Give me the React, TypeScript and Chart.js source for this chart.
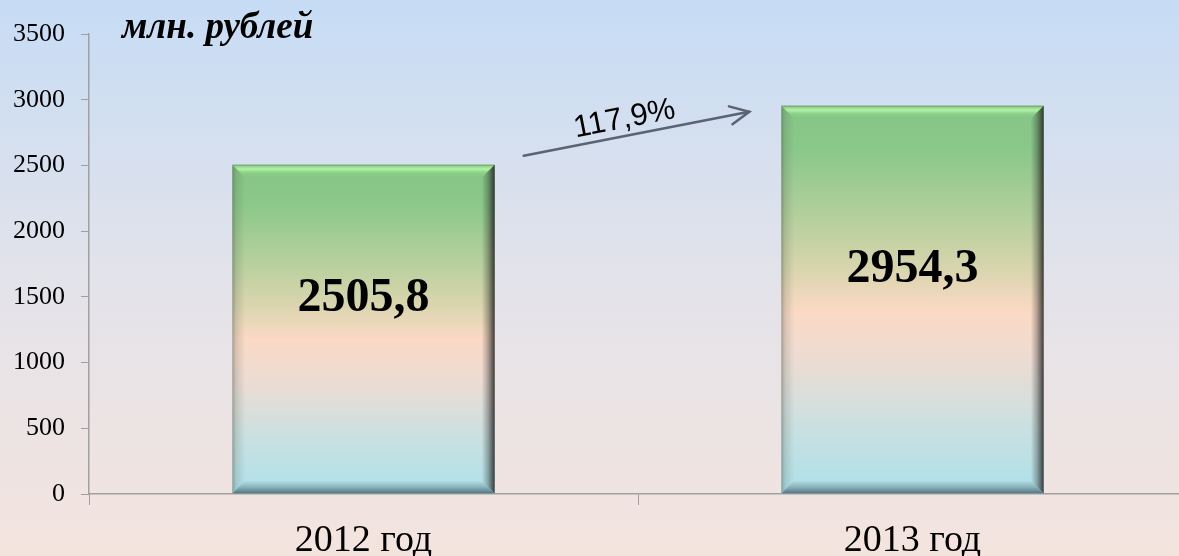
import React, { useEffect, useRef } from "react";
import { Chart, registerables } from "chart.js";

Chart.register(...registerables);

const categories = ["2012 год", "2013 год"];
const values = [2505.8, 2954.3];
const yTicks = [0, 500, 1000, 1500, 2000, 2500, 3000, 3500];
const unitLabel = "млн. рублей";

const SERIF = "'Liberation Serif', 'Times New Roman', serif";
const SANS = "'Liberation Sans', Arial, sans-serif";

function fmt(v: number, d = 1) {
  return v.toFixed(d).replace(".", ",");
}

const backgroundPlugin = {
  id: "bgGrad",
  beforeDraw(chart: any) {
    const { ctx, width, height } = chart;
    const g = ctx.createLinearGradient(0, 0, 0, height);
    g.addColorStop(0, "#c6dcf5");
    g.addColorStop(0.5, "#e3e3ea");
    g.addColorStop(1, "#f4e4de");
    ctx.save();
    ctx.fillStyle = g;
    ctx.fillRect(0, 0, width, height);
    ctx.restore();
  },
};

const bevelPlugin = {
  id: "bevel",
  afterDatasetsDraw(chart: any) {
    const { ctx } = chart;
    const meta = chart.getDatasetMeta(0);
    meta.data.forEach((bar: any) => {
      const half = bar.width / 2;
      const l = bar.x - half;
      const r = bar.x + half;
      const t = bar.y;
      const b = bar.base;
      if (![l, r, t, b].every(Number.isFinite)) return;
      const s = 13;
      ctx.save();
      // top bevel
      ctx.beginPath();
      ctx.moveTo(l, t);
      ctx.lineTo(r, t);
      ctx.lineTo(r - s, t + s);
      ctx.lineTo(l + s, t + s);
      ctx.closePath();
      let g = ctx.createLinearGradient(0, t, 0, t + s);
      g.addColorStop(0, "rgba(90,130,90,0.9)");
      g.addColorStop(0.12, "rgba(150,215,140,0.9)");
      g.addColorStop(0.35, "rgba(180,245,170,0.95)");
      g.addColorStop(0.6, "rgba(150,220,145,0.6)");
      g.addColorStop(1, "rgba(130,200,130,0)");
      ctx.fillStyle = g;
      ctx.fill();
      // left bevel
      ctx.beginPath();
      ctx.moveTo(l, t);
      ctx.lineTo(l + s, t + s);
      ctx.lineTo(l + s, b - s);
      ctx.lineTo(l, b);
      ctx.closePath();
      g = ctx.createLinearGradient(l, 0, l + s, 0);
      g.addColorStop(0, "rgba(70,80,70,0.45)");
      g.addColorStop(0.3, "rgba(90,100,90,0.2)");
      g.addColorStop(1, "rgba(90,100,90,0)");
      ctx.fillStyle = g;
      ctx.fill();
      // right bevel
      ctx.beginPath();
      ctx.moveTo(r, t);
      ctx.lineTo(r, b);
      ctx.lineTo(r - s, b - s);
      ctx.lineTo(r - s, t + s);
      ctx.closePath();
      g = ctx.createLinearGradient(r - s, 0, r, 0);
      g.addColorStop(0, "rgba(40,40,40,0)");
      g.addColorStop(0.5, "rgba(40,40,40,0.35)");
      g.addColorStop(1, "rgba(30,30,30,0.85)");
      ctx.fillStyle = g;
      ctx.fill();
      // bottom bevel
      ctx.beginPath();
      ctx.moveTo(l, b);
      ctx.lineTo(r, b);
      ctx.lineTo(r - s, b - s);
      ctx.lineTo(l + s, b - s);
      ctx.closePath();
      g = ctx.createLinearGradient(0, b - s, 0, b);
      g.addColorStop(0, "rgba(80,110,120,0)");
      g.addColorStop(0.5, "rgba(80,110,120,0.4)");
      g.addColorStop(1, "rgba(70,95,105,0.85)");
      ctx.fillStyle = g;
      ctx.fill();
      ctx.restore();
    });
  },
};

const labelsPlugin = {
  id: "labels",
  afterDatasetsDraw(chart: any) {
    const { ctx, chartArea } = chart;
    const meta = chart.getDatasetMeta(0);
    if (meta.data.length < 2) return;
    ctx.save();
    // value labels
    ctx.fillStyle = "#000";
    ctx.font = `bold 48px ${SERIF}`;
    ctx.textAlign = "center";
    ctx.textBaseline = "middle";
    meta.data.forEach((bar: any, i: number) => {
      ctx.fillText(fmt(values[i]), bar.x, (bar.y + bar.base) / 2 - 30);
    });
    // unit label
    ctx.font = `italic bold 37px ${SERIF}`;
    ctx.textAlign = "left";
    ctx.textBaseline = "alphabetic";
    ctx.fillText(unitLabel, chartArea.left + 33, chartArea.top + 4);

    // growth arrow
    const b1 = meta.data[0];
    const b2 = meta.data[1];
    const x1 = b1.x + b1.width / 2 + 29;
    const y1 = b1.y - 9;
    const x2 = b2.x - b2.width / 2 - 32;
    const y2 = b2.y + 6;
    const ang = Math.atan2(y2 - y1, x2 - x1);
    ctx.strokeStyle = "#5b6272";
    ctx.lineWidth = 2.5;
    ctx.lineCap = "round";
    ctx.beginPath();
    ctx.moveTo(x1, y1);
    ctx.lineTo(x2, y2);
    ctx.stroke();
    const ah = 21;
    ctx.beginPath();
    ctx.moveTo(x2 - ah * Math.cos(ang - 0.45), y2 - ah * Math.sin(ang - 0.45));
    ctx.lineTo(x2, y2);
    ctx.lineTo(x2 - ah * Math.cos(ang + 0.45), y2 - ah * Math.sin(ang + 0.45));
    ctx.stroke();
    const pct = (values[1] / values[0]) * 100;
    const mx = (x1 + x2) / 2;
    const my = (y1 + y2) / 2;
    ctx.translate(mx, my);
    ctx.rotate(ang);
    ctx.font = `31px ${SANS}`;
    ctx.textAlign = "center";
    ctx.textBaseline = "alphabetic";
    ctx.fillStyle = "#000";
    ctx.fillText(fmt(pct) + "%", -9, -8);
    ctx.restore();
  },
};

function barFill(c: any) {
  const ch = c.chart;
  const ys = ch.scales && ch.scales.y;
  if (!ys || c.dataIndex === undefined) return "#a8d0a0";
  const top = ys.getPixelForValue(values[c.dataIndex]);
  const base = ys.getPixelForValue(0);
  if (!Number.isFinite(top) || !Number.isFinite(base) || base - top < 1) return "#a8d0a0";
  const g = ch.ctx.createLinearGradient(0, top, 0, base);
  g.addColorStop(0, "#84c584");
  g.addColorStop(0.12, "#8bc88a");
  g.addColorStop(0.28, "#b2cf9b");
  g.addColorStop(0.42, "#d8d5ad");
  g.addColorStop(0.53, "#fbd9c5");
  g.addColorStop(0.66, "#ecdcd3");
  g.addColorStop(0.82, "#cbe0e0");
  g.addColorStop(1, "#ade1ea");
  return g;
}

export default function App() {
  const ref = useRef<HTMLCanvasElement | null>(null);
  useEffect(() => {
    if (!ref.current) return;
    const chart = new Chart(ref.current, {
      type: "bar",
      data: {
        labels: categories,
        datasets: [
          {
            data: values,
            borderWidth: 0,
            barPercentage: 0.478,
            categoryPercentage: 1,
            backgroundColor: barFill,
          },
        ],
      },
      options: {
        animation: false,
        responsive: true,
        maintainAspectRatio: false,
        layout: { padding: { top: 34, left: 0, right: 0, bottom: 0 } },
        plugins: {
          legend: { display: false },
          tooltip: { enabled: false },
          title: { display: false },
        },
        scales: {
          x: {
            type: "category",
            offset: true,
            grid: {
              drawOnChartArea: false,
              drawTicks: true,
              tickLength: 11,
              color: "#a0a0a0",
              offset: true,
            },
            border: { color: "#a0a0a0", width: 1.5 },
            ticks: {
              color: "#000",
              font: { family: SERIF, size: 38 },
              padding: 13,
            },
            afterFit: (s: any) => {
              s.height = 62;
            },
          },
          y: {
            min: yTicks[0],
            max: yTicks[yTicks.length - 1],
            afterBuildTicks: (s: any) => {
              s.ticks = yTicks.map((v) => ({ value: v }));
            },
            grid: {
              drawOnChartArea: false,
              drawTicks: true,
              tickLength: 8,
              color: "#a0a0a0",
            },
            border: { color: "#a0a0a0", width: 1.5 },
            ticks: {
              color: "#000",
              font: { family: SERIF, size: 26 },
              padding: 16,
              callback: (v: any) => String(v),
            },
            afterFit: (s: any) => {
              s.width = 89;
            },
          },
        },
      },
      plugins: [backgroundPlugin, bevelPlugin, labelsPlugin],
    } as any);
    chart.update();
    return () => chart.destroy();
  }, []);

  return (
    <div
      style={{
        position: "fixed",
        left: 0,
        top: 0,
        width: 1179,
        height: 556,
        overflow: "hidden",
      }}
    >
      <div style={{ position: "relative", width: 1187, height: 556 }}>
        <canvas ref={ref} />
      </div>
    </div>
  );
}
